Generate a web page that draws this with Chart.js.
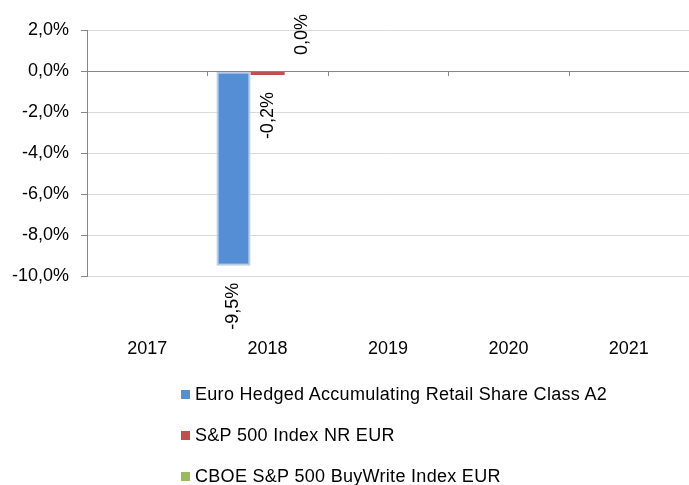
<!DOCTYPE html>
<html>
<head>
<meta charset="utf-8">
<script src="https://cdn.jsdelivr.net/npm/chart.js@4/dist/chart.umd.min.js"></script>
<style>
  html, body { margin: 0; padding: 0; background: #ffffff; }
  #wrap { position: relative; width: 689px; height: 485px; }
  canvas { position: absolute; left: 0; top: 0; }
  #legend { position: absolute; left: 181px; top: 374px; font-family: "Liberation Sans", Arial, sans-serif; font-size: 18px; letter-spacing: 0.3px; color: #000; }
  #legend .item { height: 41px; line-height: 41px; white-space: nowrap; }
  #legend .box { display: inline-block; width: 9px; height: 9px; margin-right: 5px; vertical-align: 1px; }
</style>
</head>
<body>
<div id="wrap">
  <canvas id="c" width="689" height="485"></canvas>
  <div id="legend"></div>
</div>
<script>
const categories = ["2017", "2018", "2019", "2020", "2021"];
const seriesNames = [
  "Euro Hedged Accumulating Retail Share Class A2",
  "S&P 500 Index NR EUR",
  "CBOE S&P 500 BuyWrite Index EUR"
];
const fundValues = [null, -9.5, null, null, null];
const sp500Values = [null, -0.2, null, null, null];
const buyWriteValues = [null, 0.0, null, null, null];
const yTicks = [-10, -8, -6, -4, -2, 0, 2];

const FONT = "'Liberation Sans', Arial, sans-serif";
const fmt = v => v.toFixed(1).replace('.', ',') + '%';

const colors = ['#558ED5', '#C0504D', '#9BBB59'];

const dataLabels = {
  id: 'dataLabels',
  afterDatasetsDraw(chart) {
    const ctx = chart.ctx;
    ctx.save();
    ctx.font = '18px ' + FONT;
    ctx.fillStyle = '#000';
    ctx.textBaseline = 'middle';
    chart.data.datasets.forEach((ds, di) => {
      const meta = chart.getDatasetMeta(di);
      meta.data.forEach((bar, i) => {
        const v = ds.data[i];
        if (v === null || v === undefined) return;
        ctx.save();
        if (v < 0) {
          ctx.translate(bar.x, bar.y + 17);
          ctx.rotate(-Math.PI / 2);
          ctx.textAlign = 'right';
        } else {
          ctx.translate(bar.x, bar.y - 16);
          ctx.rotate(-Math.PI / 2);
          ctx.textAlign = 'left';
        }
        ctx.fillText(fmt(v), 0, 0);
        ctx.restore();
      });
    });
    ctx.restore();
  }
};

const zeroTicks = {
  id: 'zeroTicks',
  afterDatasetsDraw(chart) {
    const xs = chart.scales.x, ys = chart.scales.y;
    const ctx = chart.ctx;
    const y0 = ys.getPixelForValue(0);
    const half = (xs.getPixelForValue(1) - xs.getPixelForValue(0)) / 2;
    ctx.save();
    ctx.strokeStyle = '#868686';
    ctx.lineWidth = 1;
    ctx.beginPath();
    for (let i = 0; i < categories.length; i++) {
      const xb = Math.round(xs.getPixelForValue(i) + half) + 0.5;
      ctx.moveTo(xb, y0);
      ctx.lineTo(xb, y0 + 5);
    }
    ctx.moveTo(chart.chartArea.left, Math.round(y0) + 0.5);
    ctx.lineTo(chart.chartArea.right, Math.round(y0) + 0.5);
    ctx.stroke();
    ctx.restore();
  }
};

const chart = new Chart(document.getElementById('c'), {
  type: 'bar',
  data: {
    labels: categories,
    datasets: [
      { label: seriesNames[0], data: fundValues, backgroundColor: colors[0], borderColor: '#B9CDE5', borderWidth: 2, borderSkipped: false },
      { label: seriesNames[1], data: sp500Values, backgroundColor: colors[1], borderWidth: 0 },
      { label: seriesNames[2], data: buyWriteValues, backgroundColor: colors[2], borderWidth: 0 }
    ]
  },
  options: {
    responsive: false,
    animation: false,
    devicePixelRatio: 1,
    layout: { padding: { top: 30, right: 0, bottom: 0, left: 0 } },
    datasets: { bar: { categoryPercentage: 0.85, barPercentage: 1.0 } },
    plugins: { legend: { display: false }, tooltip: { enabled: false } },
    scales: {
      x: {
        grid: { display: false, drawTicks: false },
        border: { display: false },
        ticks: { color: '#000', font: { family: FONT, size: 18 }, padding: 62, maxRotation: 0 },
        afterFit(s) { s.height = 209; s.paddingLeft = 0; s.paddingRight = 0; }
      },
      y: {
        min: -10, max: 2,
        afterBuildTicks(s) { s.ticks = yTicks.map(v => ({ value: v })); },
        ticks: { color: '#000', font: { family: FONT, size: 18 }, padding: 12, callback: v => fmt(v) },
        grid: {
          color: c => (c.tick && c.tick.value === 0) ? '#868686' : '#D9D9D9',
          tickColor: '#868686',
          tickLength: 6,
          lineWidth: 1
        },
        border: { display: true, color: '#868686', width: 1 },
        afterFit(s) { s.width = 87; }
      }
    }
  },
  plugins: [dataLabels, zeroTicks]
});

const leg = document.getElementById('legend');
chart.data.datasets.forEach(ds => {
  const row = document.createElement('div');
  row.className = 'item';
  const box = document.createElement('span');
  box.className = 'box';
  box.style.background = ds.backgroundColor;
  row.appendChild(box);
  row.appendChild(document.createTextNode(ds.label));
  leg.appendChild(row);
});
</script>
</body>
</html>
